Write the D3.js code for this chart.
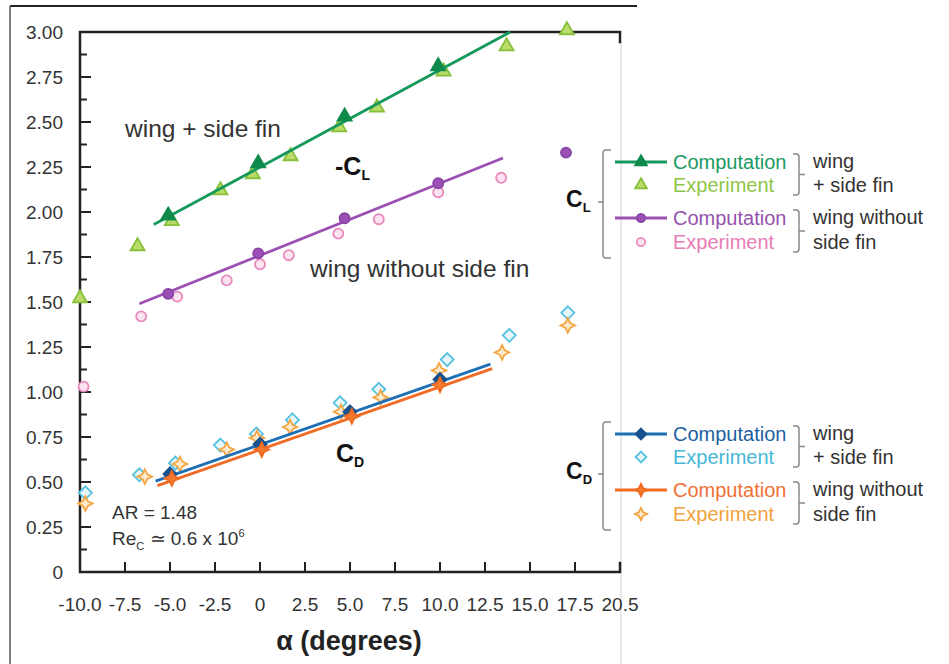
<!DOCTYPE html>
<html>
<head>
<meta charset="utf-8">
<script src="https://cdn.jsdelivr.net/npm/d3@7"></script>
<style>
  body { margin: 0; background: #fff; }
  svg { display: block; font-family: "Liberation Sans", Arial, sans-serif; }
</style>
</head>
<body>
<svg id="chart" width="949" height="664"></svg>
<script>
// axis ticks
const alphaTicks = [-10, -7.5, -5, -2.5, 0, 2.5, 5, 7.5, 10, 12.5, 15, 17.5, 20];
const alphaTickLabels = ['-10.0', '-7.5', '-5.0', '-2.5', '0', '2.5', '5.0', '7.5', '10.0', '12.5', '15.0', '17.5', '20.5'];
const coefTicks = [0, 0.25, 0.5, 0.75, 1, 1.25, 1.5, 1.75, 2, 2.25, 2.5, 2.75, 3];
const coefTickLabels = ['0', '0.25', '0.50', '0.75', '1.00', '1.25', '1.50', '1.75', '2.00', '2.25', '2.50', '2.75', '3.00'];

// -CL, wing + side fin  [alpha, value]
const clFinCompLine = [[-5.9, 1.93], [13.9, 3.0]];
const clFinCompPts = [[-5.1, 1.98], [-0.1, 2.27], [4.7, 2.53], [9.9, 2.81]];
const clFinExp = [[-10, 1.52], [-6.8, 1.81], [-4.9, 1.95], [-2.2, 2.12], [-0.4, 2.21], [1.7, 2.31],
  [4.4, 2.47], [6.5, 2.58], [10.2, 2.78], [13.7, 2.92], [17.05, 3.01]];

// -CL, wing without side fin
const clNoFinCompLine = [[-6.7, 1.49], [13.5, 2.30]];
const clNoFinCompPts = [[-5.1, 1.545], [-0.1, 1.77], [4.7, 1.965], [9.9, 2.16], [17.0, 2.33]];
const clNoFinExp = [[-9.8, 1.03], [-6.6, 1.42], [-4.6, 1.53], [-1.85, 1.62], [0, 1.71], [1.6, 1.76],
  [4.35, 1.88], [6.6, 1.96], [9.9, 2.11], [13.4, 2.19]];

// CD, wing + side fin
const cdFinCompLine = [[-5.8, 0.505], [12.8, 1.155]];
const cdFinCompPts = [[-5, 0.545], [0, 0.71], [5, 0.89], [10, 1.07]];
const cdFinExp = [[-9.7, 0.44], [-6.7, 0.54], [-4.7, 0.605], [-2.2, 0.705], [-0.2, 0.767], [1.8, 0.845],
  [4.45, 0.94], [6.6, 1.015], [10.4, 1.18], [13.85, 1.315], [17.1, 1.44]];

// CD, wing without side fin
const cdNoFinCompLine = [[-5.7, 0.48], [12.9, 1.13]];
const cdNoFinCompPts = [[-4.9, 0.52], [0.1, 0.68], [5.1, 0.865], [10, 1.04]];
const cdNoFinExp = [[-9.7, 0.38], [-6.4, 0.53], [-4.45, 0.60], [-1.85, 0.68], [-0.17, 0.745], [1.67, 0.805],
  [4.5, 0.89], [6.7, 0.97], [9.95, 1.12], [13.45, 1.22], [17.1, 1.37]];

// legend
const legendGroups = ['CL', 'CD'];
const legendRows = ['Computation', 'Experiment', 'Computation', 'Experiment'];
const legendCases = [['wing', '+ side fin'], ['wing without', 'side fin']];

const svg = d3.select('#chart');
const ink = '#333';

const m = { left: 80, right: 620, top: 32, bottom: 572 };
const x = d3.scaleLinear().domain([-10, 20]).range([m.left, m.right]);
const y = d3.scaleLinear().domain([0, 3]).range([m.bottom, m.top]);

// 4 point star for the orange series
const star4 = {
  draw(ctx, size) {
    const r = Math.sqrt(size) * 0.75, k = r * 0.33;
    ctx.moveTo(0, -r);
    ctx.lineTo(k, -k); ctx.lineTo(r, 0); ctx.lineTo(k, k);
    ctx.lineTo(0, r); ctx.lineTo(-k, k); ctx.lineTo(-r, 0); ctx.lineTo(-k, -k);
    ctx.closePath();
  }
};
const diamond = {
  draw(ctx, size) {
    const r = Math.sqrt(size) * 0.62;
    ctx.moveTo(0, -r); ctx.lineTo(r, 0); ctx.lineTo(0, r); ctx.lineTo(-r, 0); ctx.closePath();
  }
};

const styles = {
  clFinComp: { line: '#17995c', fill: '#0f8a4c', stroke: '#0f8a4c', shape: d3.symbolTriangle, size: 85 },
  clFinExp: { fill: '#b9dc6a', stroke: '#86bf3a', shape: d3.symbolTriangle, size: 85 },
  clNoFinComp: { line: '#9b50b3', fill: '#9a50b6', stroke: '#8a44a6', shape: d3.symbolCircle, size: 80 },
  clNoFinExp: { fill: '#fbe4ef', stroke: '#e88abd', shape: d3.symbolCircle, size: 80 },
  cdFinComp: { line: '#1f6fb5', fill: '#17528f', stroke: '#17528f', shape: diamond, size: 110 },
  cdFinExp: { fill: '#e6f6fb', stroke: '#55c1e1', shape: diamond, size: 110 },
  cdNoFinComp: { line: '#f26b25', fill: '#f37a2c', stroke: '#f06a20', shape: star4, size: 95 },
  cdNoFinExp: { fill: '#fde9cc', stroke: '#f3a542', shape: star4, size: 95 }
};

// outer frame of the figure
svg.append('line').attr('x1', 10).attr('x2', 637).attr('y1', 6).attr('y2', 6)
  .attr('stroke', '#222').attr('stroke-width', 2);
svg.append('line').attr('x1', 10).attr('x2', 10).attr('y1', 6).attr('y2', 664)
  .attr('stroke', '#555').attr('stroke-width', 1.5);
svg.append('line').attr('x1', 621).attr('x2', 621).attr('y1', 42).attr('y2', 664)
  .attr('stroke', '#e2e2e2').attr('stroke-width', 1.5);

// axes
const axisG = svg.append('g').attr('stroke', '#222').attr('stroke-linecap', 'square');
axisG.append('path')
  .attr('d', `M${m.right},${m.top + 10}V${m.top}H${m.left}V${m.bottom}H${m.right}V${m.bottom - 9}`)
  .attr('fill', 'none').attr('stroke-width', 2.5);

axisG.selectAll('.xt').data(alphaTicks.slice(1, -1)).join('line')
  .attr('class', 'xt')
  .attr('x1', d => x(d)).attr('x2', d => x(d))
  .attr('y1', m.bottom).attr('y2', m.bottom - 9)
  .attr('stroke-width', 2);

const minorY = d3.range(0.125, 3, 0.25);
axisG.selectAll('.ym').data(minorY).join('line')
  .attr('class', 'ym')
  .attr('x1', m.left).attr('x2', m.left + 6)
  .attr('y1', d => y(d)).attr('y2', d => y(d))
  .attr('stroke-width', 2);
axisG.selectAll('.yt').data(coefTicks.slice(1, -1)).join('line')
  .attr('class', 'yt')
  .attr('x1', m.left).attr('x2', m.left + 10)
  .attr('y1', d => y(d)).attr('y2', d => y(d))
  .attr('stroke-width', 2);

svg.append('g').selectAll('text').data(alphaTicks).join('text')
  .attr('x', d => x(d)).attr('y', 611)
  .attr('text-anchor', 'middle')
  .attr('font-size', 19).attr('fill', ink)
  .text((d, i) => alphaTickLabels[i]);

svg.append('g').selectAll('text').data(coefTicks).join('text')
  .attr('x', 63).attr('y', d => y(d) + 7)
  .attr('text-anchor', 'end')
  .attr('font-size', 19).attr('fill', ink)
  .text((d, i) => coefTickLabels[i]);

svg.append('text').attr('x', 349).attr('y', 650)
  .attr('text-anchor', 'middle').attr('font-size', 27).attr('font-weight', 'bold').attr('fill', '#222')
  .text('α (degrees)');

// series
const line = d3.line().x(d => x(d[0])).y(d => y(d[1]));
const plot = svg.append('g');

const drawLine = (data, st) => {
  plot.append('path').datum(data).attr('d', line)
    .attr('fill', 'none').attr('stroke', st.line).attr('stroke-width', 2.8);
};
const drawMarks = (data, st) => {
  const sym = d3.symbol().type(st.shape).size(st.size);
  plot.append('g').selectAll('path').data(data).join('path')
    .attr('transform', d => `translate(${x(d[0])},${y(d[1])})`)
    .attr('d', sym)
    .attr('fill', st.fill).attr('stroke', st.stroke).attr('stroke-width', 1.8);
};

drawMarks(clFinExp, styles.clFinExp);
drawMarks(clNoFinExp, styles.clNoFinExp);
drawLine(clFinCompLine, styles.clFinComp);
drawLine(clNoFinCompLine, styles.clNoFinComp);
drawMarks(clFinCompPts, styles.clFinComp);
drawMarks(clNoFinCompPts, styles.clNoFinComp);

drawMarks(cdFinExp, styles.cdFinExp);
drawMarks(cdNoFinExp, styles.cdNoFinExp);
drawLine(cdFinCompLine, styles.cdFinComp);
drawLine(cdNoFinCompLine, styles.cdNoFinComp);
drawMarks(cdFinCompPts, styles.cdFinComp);
drawMarks(cdNoFinCompPts, styles.cdNoFinComp);

// annotations in the plot
const note = svg.append('g').attr('fill', ink);
note.append('text').attr('x', 125).attr('y', 137).attr('font-size', 24.5).text('wing + side fin');
note.append('text').attr('x', 310).attr('y', 277).attr('font-size', 24.5).text('wing without side fin');

const coefLabel = (g, xx, yy, sub, big, small) => {
  const t = g.append('text').attr('x', xx).attr('y', yy)
    .attr('font-weight', 'bold').attr('font-size', big).attr('fill', '#111');
  t.append('tspan').text(sub[0]);
  t.append('tspan').attr('font-size', small).attr('dy', 5).text(sub[1]);
};
coefLabel(note, 335, 175, ['-C', 'L'], 25, 14);
coefLabel(note, 336, 462, ['C', 'D'], 25, 14);

note.append('text').attr('x', 112).attr('y', 519).attr('font-size', 19).text('AR = 1.48');
const re = note.append('text').attr('x', 112).attr('y', 545).attr('font-size', 19);
re.append('tspan').text('Re');
re.append('tspan').attr('font-size', 11).attr('dy', 5).text('C');
re.append('tspan').attr('dy', -5).text(' ≃ 0.6 x 10');
re.append('tspan').attr('font-size', 11).attr('dy', -8).text('6');

// legend on the right
const rowOffsets = [0, 23, 56, 80];
const legendStyles = [
  [styles.clFinComp, styles.clFinExp, styles.clNoFinComp, styles.clNoFinExp],
  [styles.cdFinComp, styles.cdFinExp, styles.cdNoFinComp, styles.cdNoFinExp]
];
const textColors = [
  ['#1a9a62', '#8fc548', '#9552ad', '#e87cb4'],
  ['#1d5f9f', '#45b7d8', '#f07035', '#f0a23c']
];
const groupBase = [162, 434];

legendGroups.forEach((grp, gi) => {
  const g = svg.append('g').attr('transform', `translate(0,${groupBase[gi]})`);

  // big bracket with label
  g.append('path')
    .attr('d', 'M611,-12H606Q603,-12 603,-9V93Q603,96 606,96H611M603,40H598')
    .attr('fill', 'none').attr('stroke', '#8a8a8a').attr('stroke-width', 1.5);
  coefLabel(g, 566, 45, [grp[0], grp[1]], 23, 13);

  legendRows.forEach((label, ri) => {
    const st = legendStyles[gi][ri];
    const yy = rowOffsets[ri];
    if (ri % 2 === 0) {
      g.append('line').attr('x1', 615).attr('x2', 667).attr('y1', yy).attr('y2', yy)
        .attr('stroke', st.line).attr('stroke-width', 2.8);
    }
    g.append('path')
      .attr('transform', `translate(641,${yy})`)
      .attr('d', d3.symbol().type(st.shape).size(st.size * 0.7))
      .attr('fill', st.fill).attr('stroke', st.stroke).attr('stroke-width', 1.8);
    g.append('text').attr('x', 673).attr('y', yy + 7)
      .attr('font-size', 20).attr('fill', textColors[gi][ri]).text(label);
  });

  // small brackets and case names
  legendCases.forEach((lines, ci) => {
    const y0 = rowOffsets[ci * 2] - 8, y1 = rowOffsets[ci * 2 + 1] + 10;
    const mid = (y0 + y1) / 2;
    g.append('path')
      .attr('d', `M793,${y0}H796Q799,${y0} 799,${y0 + 3}V${y1 - 3}Q799,${y1} 796,${y1}H793M799,${mid}H805`)
      .attr('fill', 'none').attr('stroke', '#8a8a8a').attr('stroke-width', 1.5);
    lines.forEach((t, li) => {
      g.append('text').attr('x', 813).attr('y', rowOffsets[ci * 2 + li] + 6 + li * 1)
        .attr('font-size', 20).attr('fill', ink).text(t);
    });
  });
});
</script>
</body>
</html>
